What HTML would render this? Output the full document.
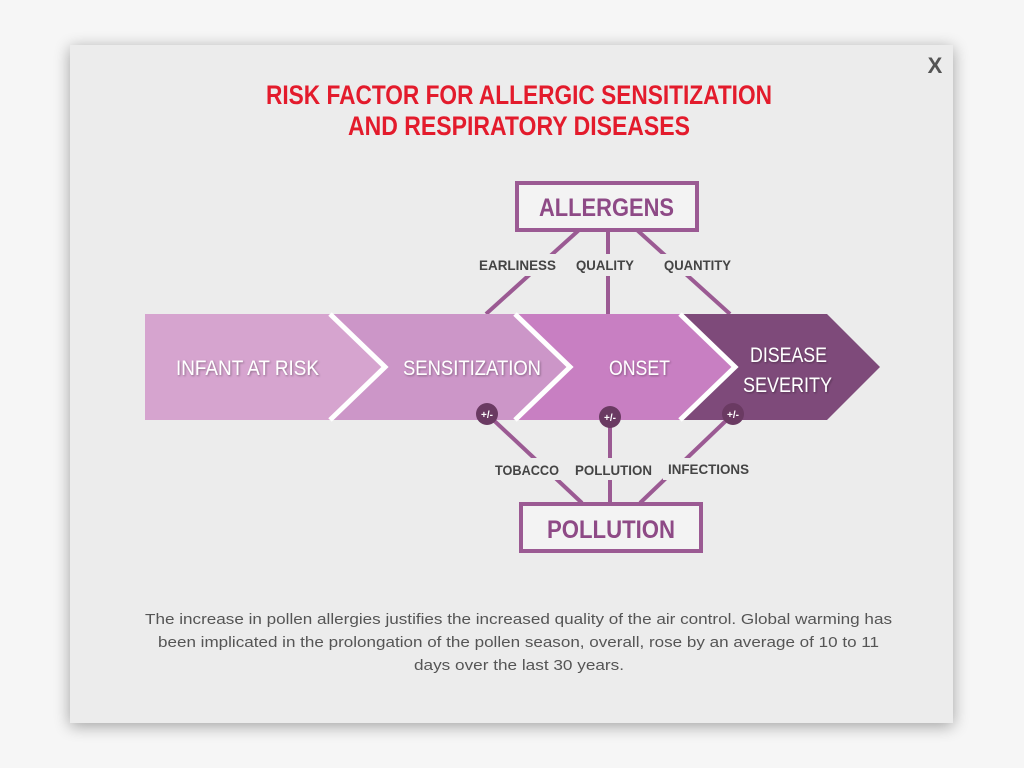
<!DOCTYPE html>
<html><head><meta charset="utf-8"><style>
body{margin:0;width:1024px;height:768px;background:#f6f6f6;overflow:hidden}
svg{display:block}
text{font-family:"Liberation Sans",sans-serif}
</style></head><body>
<svg width="1024" height="768" viewBox="0 0 1024 768">
<defs>
<filter id="sh" x="-10%" y="-10%" width="120%" height="120%"><feGaussianBlur stdDeviation="8"/></filter>
<filter id="ts"><feDropShadow dx="1" dy="1" stdDeviation="1" flood-color="#000" flood-opacity="0.35"/></filter>
</defs>
<rect x="70" y="48" width="883" height="678" fill="#000" opacity="0.35" filter="url(#sh)"/>
<rect x="70" y="45" width="883" height="678" fill="#ececec"/>
<text x="935" y="73" font-size="22" font-weight="bold" fill="#555" text-anchor="middle">X</text>
<g fill="#e31b2c" font-weight="bold" font-size="27">
<text x="266" y="104" textLength="506" lengthAdjust="spacingAndGlyphs">RISK FACTOR FOR ALLERGIC SENSITIZATION</text>
<text x="348" y="135" textLength="342" lengthAdjust="spacingAndGlyphs">AND RESPIRATORY DISEASES</text>
</g>
<g stroke="#9b5a93" stroke-width="4" fill="none">
<line x1="579" y1="230" x2="486" y2="314"/><line x1="608" y1="230" x2="608" y2="314"/><line x1="637" y1="230" x2="730" y2="314"/>
<line x1="487" y1="414" x2="582" y2="503"/><line x1="610" y1="417" x2="610" y2="503"/><line x1="733" y1="414" x2="640" y2="503"/>
</g>
<g fill="#ececec">
<rect x="474" y="254" width="90" height="22"/><rect x="572" y="254" width="68" height="22"/><rect x="658" y="254" width="80" height="22"/>
<rect x="490" y="458" width="74" height="22"/><rect x="570" y="458" width="88" height="22"/><rect x="663" y="458" width="92" height="22"/>
</g>
<g>
<polygon points="145,314 827,314 880,367 827,420 145,420" fill="#7e4a7a"/>
<polygon points="145,314 680,314 735,367 680,420 145,420" fill="#c87fc2"/>
<polyline points="680,314 735,367 680,420" fill="none" stroke="#fff" stroke-width="5"/>
<polygon points="145,314 515,314 570,367 515,420 145,420" fill="#cc96c8"/>
<polyline points="515,314 570,367 515,420" fill="none" stroke="#fff" stroke-width="5"/>
<polygon points="145,314 330,314 385,367 330,420 145,420" fill="#d6a4cf"/>
<polyline points="330,314 385,367 330,420" fill="none" stroke="#fff" stroke-width="5"/>
</g>
<g fill="#fff" font-size="21" filter="url(#ts)">
<text x="176" y="375" textLength="143" lengthAdjust="spacingAndGlyphs">INFANT AT RISK</text>
<text x="403" y="375" textLength="138" lengthAdjust="spacingAndGlyphs">SENSITIZATION</text>
<text x="609" y="375" textLength="61" lengthAdjust="spacingAndGlyphs">ONSET</text>
<text x="750" y="362" textLength="77" lengthAdjust="spacingAndGlyphs">DISEASE</text>
<text x="743" y="392" textLength="89" lengthAdjust="spacingAndGlyphs">SEVERITY</text>
</g>
<g>
<circle cx="487" cy="414" r="11" fill="#6a3a62"/><circle cx="610" cy="417" r="11" fill="#6a3a62"/><circle cx="733" cy="414" r="11" fill="#6a3a62"/>
<g fill="#fff" font-size="10" font-weight="bold" text-anchor="middle">
<text x="487" y="418">+/-</text><text x="610" y="421">+/-</text><text x="733" y="418">+/-</text></g>
</g>
<rect x="517" y="183" width="180" height="47" fill="#f3f3f3" stroke="#9b5a93" stroke-width="4"/>
<text x="539" y="216" font-size="25" font-weight="bold" fill="#8e4a86" textLength="135" lengthAdjust="spacingAndGlyphs">ALLERGENS</text>
<rect x="521" y="504" width="180" height="47" fill="#f3f3f3" stroke="#9b5a93" stroke-width="4"/>
<text x="547" y="538" font-size="25" font-weight="bold" fill="#8e4a86" textLength="128" lengthAdjust="spacingAndGlyphs">POLLUTION</text>
<g fill="#444" font-size="14" font-weight="bold">
<text x="479" y="270" textLength="77" lengthAdjust="spacingAndGlyphs">EARLINESS</text>
<text x="576" y="270" textLength="58" lengthAdjust="spacingAndGlyphs">QUALITY</text>
<text x="664" y="270" textLength="67" lengthAdjust="spacingAndGlyphs">QUANTITY</text>
<text x="495" y="475" textLength="64" lengthAdjust="spacingAndGlyphs">TOBACCO</text>
<text x="575" y="475" textLength="77" lengthAdjust="spacingAndGlyphs">POLLUTION</text>
<text x="668" y="474" textLength="81" lengthAdjust="spacingAndGlyphs">INFECTIONS</text>
</g>
<g fill="#555" font-size="15">
<text x="145" y="624" textLength="747" lengthAdjust="spacingAndGlyphs">The increase in pollen allergies justifies the increased quality of the air control. Global warming has</text>
<text x="158" y="647" textLength="721" lengthAdjust="spacingAndGlyphs">been implicated in the prolongation of the pollen season, overall, rose by an average of 10 to 11</text>
<text x="414" y="670" textLength="210" lengthAdjust="spacingAndGlyphs">days over the last 30 years.</text>
</g>
</svg>
</body></html>
